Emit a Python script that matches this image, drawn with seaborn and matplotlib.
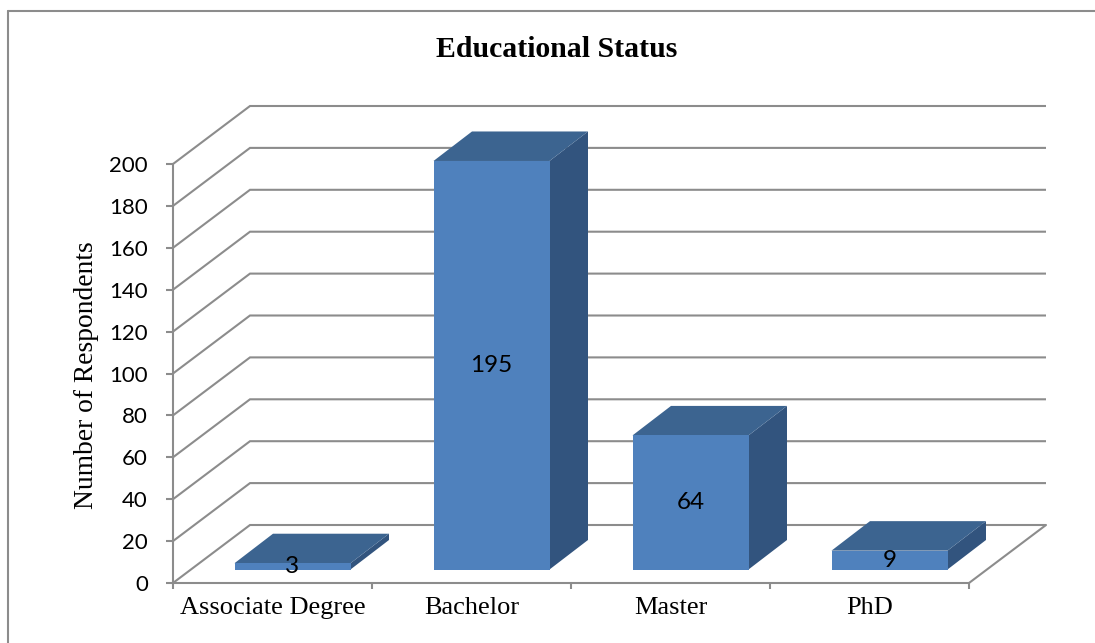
import matplotlib
matplotlib.use("Agg")
import matplotlib.pyplot as plt
from matplotlib.patches import Polygon
from matplotlib.lines import Line2D
import numpy as np
import seaborn as sns

# ---- data -------------------------------------------------------------
categories = ["Associate Degree", "Bachelor", "Master", "PhD"]
respondents = [3, 195, 64, 9]
y_ticks = list(range(0, 201, 20))

title = "Educational Status"
y_label = "Number of Respondents"

# ---- style ------------------------------------------------------------
FRONT = "#4F81BD"
TOP = "#3C6490"
SIDE = "#32547E"
GRID = "#8C8C8C"
SERIF = ["Liberation Serif", "DejaVu Serif"]

W, H, DPI = 1095, 643, 100
sns.set_theme(style="white")
plt.rcParams["font.family"] = ["Lato", "DejaVu Sans"]

fig = plt.figure(figsize=(W / DPI, H / DPI), dpi=DPI)

# plot area (front plane of the pseudo-3D box), laid out in pixels
PX_LEFT, PX_CAT = 173, 199.0      # left edge of category axis, px per category
PX_ZERO, PX_UNIT = 583, 2.095     # baseline, px per respondent
PX_RIGHT, PX_TOP = 1062, 90
ax = fig.add_axes([PX_LEFT / W, (H - PX_ZERO) / H,
                   (PX_RIGHT - PX_LEFT) / W, (PX_ZERO - PX_TOP) / H])
x_lim = (-0.5, -0.5 + (PX_RIGHT - PX_LEFT) / PX_CAT)
y_lim = (0, (PX_ZERO - PX_TOP) / PX_UNIT)

# oblique projection offsets (data units)
WALL_DX, WALL_DY = 77 / PX_CAT, 58 / PX_UNIT     # full depth of the box
BAR_DX0, BAR_DY0 = 20 / PX_CAT, 13.5 / PX_UNIT   # bar front face inset
BAR_DDX, BAR_DDY = 38.5 / PX_CAT, 29.5 / PX_UNIT # bar depth
BAR_W = 116 / PX_CAT

n = len(categories)

# back wall gridlines with their receding left-side segments
for v in y_ticks:
    ax.plot([-0.5, -0.5 + WALL_DX, n - 0.5 + WALL_DX],
            [v, v + WALL_DY, v + WALL_DY],
            color=GRID, lw=1.5, zorder=1, solid_capstyle="butt",
            solid_joinstyle="miter", clip_on=False)
# right edge of the floor
ax.plot([n - 0.5, n - 0.5 + WALL_DX], [0, WALL_DY],
        color=GRID, lw=1.5, zorder=1, clip_on=False)

# front faces of the bars
sns.barplot(x=categories, y=respondents, color=FRONT, saturation=1,
            width=BAR_W, bottom=BAR_DY0, linewidth=0, ax=ax, zorder=3)

bars = [p for p in ax.patches]
for p, val in zip(bars, respondents):
    p.set_x(p.get_x() + BAR_DX0)
    x0, w = p.get_x(), p.get_width()
    y0, h = p.get_y(), p.get_height()
    x1, y1 = x0 + w, y0 + h
    top = [(x0, y1), (x1, y1), (x1 + BAR_DDX, y1 + BAR_DDY), (x0 + BAR_DDX, y1 + BAR_DDY)]
    side = [(x1, y0), (x1 + BAR_DDX, y0 + BAR_DDY), (x1 + BAR_DDX, y1 + BAR_DDY), (x1, y1)]
    ax.add_patch(Polygon(side, closed=True, fc=SIDE, lw=0, zorder=2.8))
    ax.add_patch(Polygon(top, closed=True, fc=TOP, lw=0, zorder=2.9))
    ax.text(x0 + w / 2, y0 + h / 2, f"{val}", ha="center", va="center",
            fontsize=17.5, color="black", zorder=5)

# axes, ticks and labels
ax.set_xlim(*x_lim)
ax.set_ylim(*y_lim)
ax.set_xlabel("")
ax.set_ylabel("")
ax.patch.set_alpha(0)
ax.grid(False)

ax.set_xticks(np.arange(n + 1) - 0.5)
ax.set_xticklabels([])
ax.set_xticks(np.arange(n), minor=True)
ax.set_xticklabels(categories, minor=True, fontfamily=SERIF, fontsize=19)
ax.tick_params(axis="x", which="major", bottom=True, length=4.5, width=1.5,
               color=GRID, direction="out")
ax.tick_params(axis="x", which="minor", bottom=True, length=0, pad=10,
               labelcolor="black")

ax.set_yticks(y_ticks)
ax.set_yticklabels([str(t) for t in y_ticks])
ax.tick_params(axis="y", left=True, length=5, width=1.5, color=GRID,
               direction="out", pad=13, labelsize=16, labelcolor="black")

for side_name in ("top", "right"):
    ax.spines[side_name].set_visible(False)
for side_name in ("left", "bottom"):
    ax.spines[side_name].set_color(GRID)
    ax.spines[side_name].set_linewidth(1.5)
ax.spines["left"].set_bounds(0, y_ticks[-1])
ax.spines["bottom"].set_bounds(-0.5, n - 0.5)

fig.text(557 / W, 1 - 57 / H, title, ha="center", va="baseline",
         fontfamily=SERIF, fontweight="bold", fontsize=21.4, color="black")
fig.text(93 / W, 1 - 375 / H, y_label, rotation=90, rotation_mode="anchor",
         ha="center", va="baseline", fontfamily=SERIF, fontsize=19.8,
         color="black")

# chart frame
fig.add_artist(Line2D([8 / W, 8 / W], [0, 1 - 11 / H], transform=fig.transFigure,
                      color=GRID, lw=1.5))
fig.add_artist(Line2D([8 / W, 1], [1 - 11 / H, 1 - 11 / H], transform=fig.transFigure,
                      color=GRID, lw=1.5))

fig.savefig("out.png", dpi=DPI, facecolor="white")
